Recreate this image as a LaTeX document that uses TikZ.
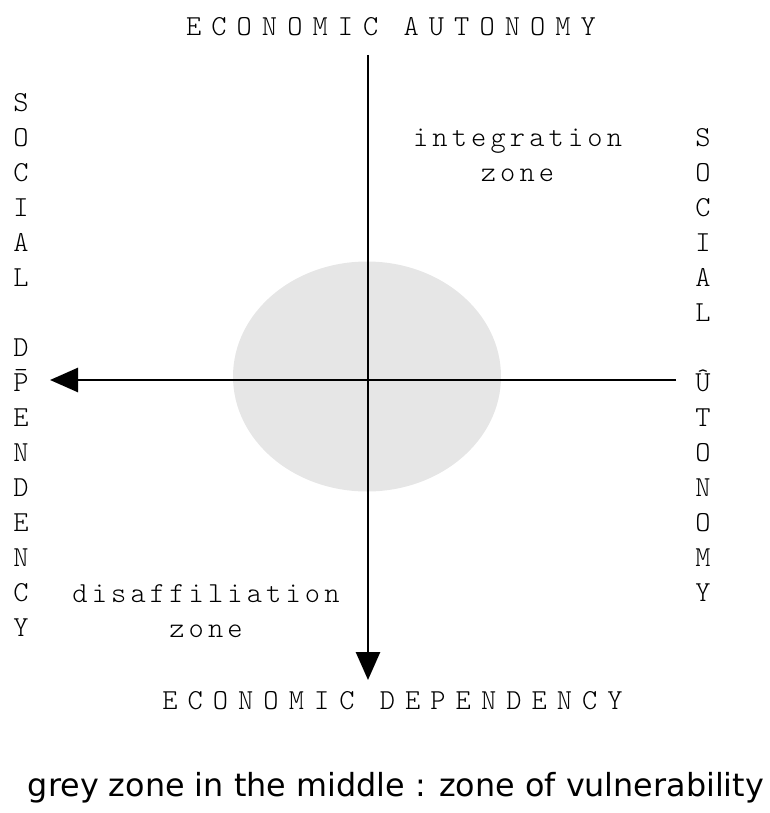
\documentclass[tikz,border=0pt]{standalone}
\usepackage{fontspec}
\usetikzlibrary{arrows.meta,shapes.geometric}
% Light typewriter faces: wide tracking for the axis titles, lighter tracking for zone names
\newfontfamily\axisfont{lmmonolt10-regular.otf}[LetterSpace=34.7]
\newfontfamily\zonefont{lmmonolt10-regular.otf}[LetterSpace=14.3]
\newfontfamily\letterfont{lmmonolt10-regular.otf}
\newfontfamily\notefont{DejaVu Sans}
\definecolor{zonegrey}{HTML}{E6E6E6}
\begin{document}
\begin{tikzpicture}[x=1pt,y=-1pt,
  axis/.style={line width=2.7pt,-{Triangle[length=28pt,width=24pt]}},
  axislabel/.style={font=\axisfont\fontsize{29}{34}\selectfont,anchor=base,inner sep=0pt},
  zonelabel/.style={font=\zonefont\fontsize{29}{34}\selectfont,anchor=base,inner sep=0pt},
  vletter/.style={font=\letterfont\fontsize{29}{34}\selectfont,anchor=base,inner sep=0pt},
  note/.style={font=\notefont\fontsize{31.8}{38}\selectfont,anchor=base,inner sep=0pt}]
\useasboundingbox (0,0) rectangle (769,813);

% grey zone of vulnerability
\node[ellipse,fill=zonegrey,minimum width=268pt,minimum height=230pt,inner sep=0pt]
  (vulnzone) at (367,376.5) {};

% axes
\coordinate (vtop) at (368,55);
\coordinate (vbot) at (368,680);
\coordinate (hright) at (676,380);
\coordinate (hleft) at (50,380);
\draw[axis] (vtop) -- (vbot);
\draw[axis] (hright) -- (hleft);

% axis titles
\node[axislabel] (ecoaut) at (391,35.5) {ECONOMIC AUTONOMY};
\node[axislabel] (ecodep) at (392.5,709) {ECONOMIC DEPENDENCY};

% zone names
\node[zonelabel] (integ) at (517.5,147) {integration};
\node[zonelabel] (integz) at (517.5,182) {zone};
\node[zonelabel] (disaff) at (206,602) {disaffiliation};
\node[zonelabel] (disaffz) at (206,637) {zone};

% vertical words
\foreach \ch/\yy in {S/103,O/138,C/173,I/208,A/243,L/278,D/348,{\accent"00AF P}/383,
                     E/418,N/453,D/488,E/523,N/558,C/593,Y/628}
  \node[vletter] (socdep-\yy) at (21,\yy+8.8) {\ch};
\foreach \ch/\yy in {S/138,O/173,C/208,I/243,A/278,L/313,{\^U}/383,
                     T/418,O/453,N/488,O/523,M/558,Y/593}
  \node[vletter] (socaut-\yy) at (703,\yy+8.8) {\ch};

% caption
\node[note] (caption) at (396,796) {grey zone in the middle : zone of vulnerability};
\end{tikzpicture}
\end{document}
